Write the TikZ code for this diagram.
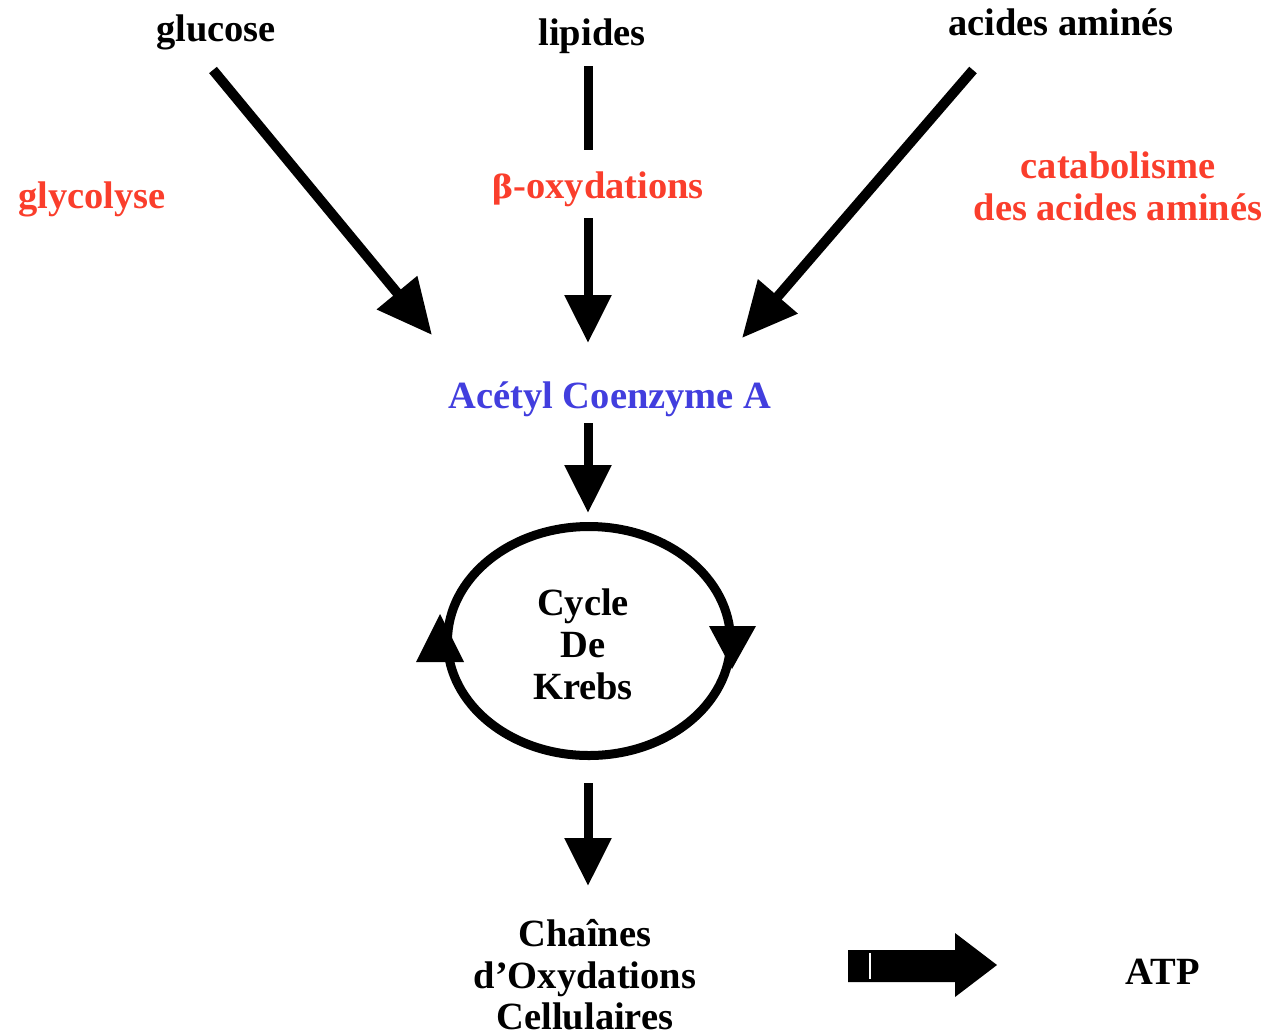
\documentclass[tikz,border=0pt]{standalone}
\usepackage{fontspec}
\setmainfont{Liberation Serif}
\usetikzlibrary{arrows.meta}
\definecolor{pathred}{RGB}{250,62,44}
\definecolor{coablue}{RGB}{66,62,222}
\tikzset{
  lbl/.style={anchor=base, inner sep=0pt, font=\bfseries\fontsize{38.5}{42}\selectfont, text=black},
  redlbl/.style={lbl, text=pathred},
  bigarrow/.style={line width=10pt, -{Triangle[length=55pt,width=50pt]}},
  vertarrow/.style={line width=9pt, -{Triangle[length=48pt,width=45pt]}},
}
\begin{document}
\begin{tikzpicture}[x=1pt,y=-1pt]
\useasboundingbox (0,0) rectangle (1268,1034);

% substrates
\node[lbl] (glucose) at (216,41) {glucose};
\node[lbl] (lipides) at (592,45) {lipides};
\node[lbl] (aa) at (1061,35) {acides aminés};

% pathway names
\node[redlbl] (glyco) at (92,208) {glycolyse};
\node[redlbl] (betaox) at (598,198) {{\fontspec{DejaVu Serif}\fontsize{32}{40}\selectfont β}-oxydations};
\node[redlbl] (catab1) at (1118,178) {catabolisme};
\node[redlbl] (catab2) at (1118,220) {des acides aminés};

% acetyl-CoA
\node[lbl, text=coablue] (acoa) at (610,408) {Acétyl Coenzyme A};

% arrow end points
\coordinate (gS) at (213,70);
\coordinate (gE) at (432,335);
\coordinate (lS) at (588,66);
\coordinate (lM) at (588,150);
\coordinate (lN) at (588,218);
\coordinate (lE) at (588,343);
\coordinate (aS) at (973,70);
\coordinate (aE) at (742,338);
\coordinate (cS) at (588,423);
\coordinate (cE) at (588,513);
\coordinate (kS) at (588,783);
\coordinate (kE) at (588,886);

\draw[bigarrow] (gS) -- (gE);
\draw[bigarrow] (aS) -- (aE);
\draw[line width=9pt] (lS) -- (lM);
\draw[vertarrow] (lN) -- (lE);
\draw[vertarrow] (cS) -- (cE);

% Krebs cycle
\coordinate (kc) at (589,641);
\draw[line width=9pt] (kc) ellipse [x radius=141.5, y radius=114.5];
\fill (709,626) -- (756,626) -- (732,669) -- cycle;
\fill (416,662) -- (464,662) -- (440,614) -- cycle;
\node[lbl] (cyc1) at (583,615) {Cycle};
\node[lbl] (cyc2) at (583,657) {De};
\node[lbl] (cyc3) at (583,699) {Krebs};

\draw[vertarrow] (kS) -- (kE);

% respiratory chain and ATP
\node[lbl] (ch1) at (585,946) {Chaînes};
\node[lbl] (ch2) at (585,988) {d’Oxydations};
\node[lbl] (ch3) at (585,1029) {Cellulaires};
\node[lbl] (atp) at (1163,984) {ATP};

\fill (848,950) -- (955,950) -- (955,933) -- (997,965) -- (955,997) -- (955,982) -- (848,982) -- cycle;
\draw[white, line width=1.5pt] (870,953) -- (870,979);
\end{tikzpicture}
\end{document}
